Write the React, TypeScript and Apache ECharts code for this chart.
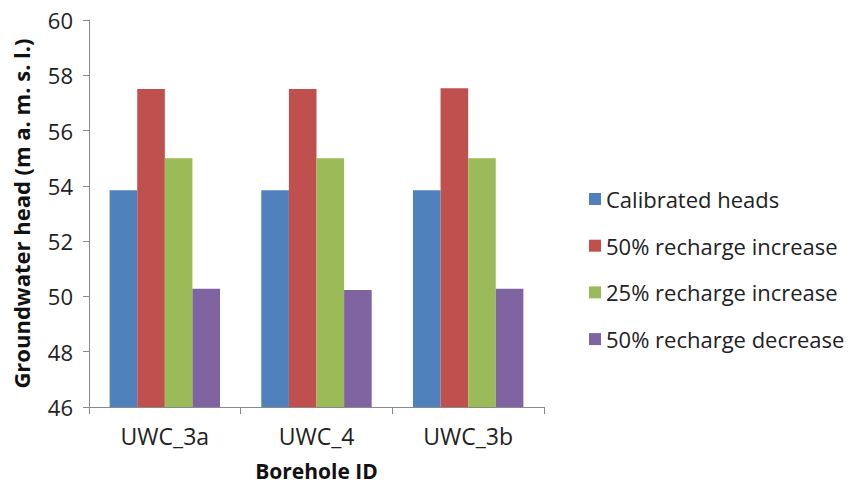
import React, { useEffect, useRef } from "react";
import * as echarts from "echarts";

const categories = ["UWC_3a", "UWC_4", "UWC_3b"];
const seriesNames = [
  "Calibrated heads",
  "50% recharge increase",
  "25% recharge increase",
  "50% recharge decrease",
];
const calibrated = [53.84, 53.84, 53.84];
const increase50 = [57.5, 57.5, 57.53];
const increase25 = [55.0, 55.0, 55.0];
const decrease50 = [50.28, 50.23, 50.28];
const colors = ["#4F81BD", "#C0504D", "#9BBB59", "#8064A2"];

const FONT = "'Open Sans', sans-serif";

export default function App() {
  const ref = useRef<HTMLDivElement>(null);
  useEffect(() => {
    if (!ref.current) return;
    const chart = echarts.init(ref.current, undefined, { renderer: "svg" });
    const values = [calibrated, increase50, increase25, decrease50];
    chart.setOption({
      animation: false,
      textStyle: { fontFamily: FONT },
      grid: { left: 89, right: 313, top: 20, bottom: 78 },
      legend: {
        orient: "vertical",
        left: 584,
        top: 182,
        itemWidth: 12,
        itemHeight: 12,
        itemGap: 22.7,
        icon: "rect",
        textStyle: { fontSize: 22, color: "#222", fontFamily: FONT, lineHeight: 24 },
        data: seriesNames,
      },
      xAxis: {
        type: "category",
        data: categories,
        name: "Borehole ID",
        nameLocation: "middle",
        nameGap: 53,
        nameTextStyle: { fontSize: 21, fontWeight: "bold", color: "#111", fontFamily: FONT },
        axisLine: { lineStyle: { color: "#8a8a8a", width: 1 } },
        axisTick: { show: true, length: 7, lineStyle: { color: "#8a8a8a" } },
        axisLabel: { fontSize: 23, color: "#222", margin: 17, fontFamily: FONT },
      },
      yAxis: {
        type: "value",
        min: 46,
        max: 60,
        interval: 2,
        name: "Groundwater head (m a. m. s. l.)",
        nameLocation: "middle",
        nameGap: 57,
        nameTextStyle: { fontSize: 22, fontWeight: "bold", color: "#111", fontFamily: FONT },
        axisLine: { show: true, lineStyle: { color: "#8a8a8a", width: 1 } },
        axisTick: { show: true, length: 6, lineStyle: { color: "#8a8a8a" } },
        splitLine: { show: false },
        axisLabel: { fontSize: 22, color: "#222", margin: 16, fontFamily: FONT },
      },
      series: seriesNames.map((name, i) => ({
        name,
        type: "bar",
        data: values[i],
        barWidth: 27.6,
        barGap: "0%",
        itemStyle: { color: colors[i] },
      })),
    });
    return () => chart.dispose();
  }, []);
  return <div ref={ref} style={{ width: 857, height: 486, position: "absolute", left: 0, top: 0 }} />;
}
